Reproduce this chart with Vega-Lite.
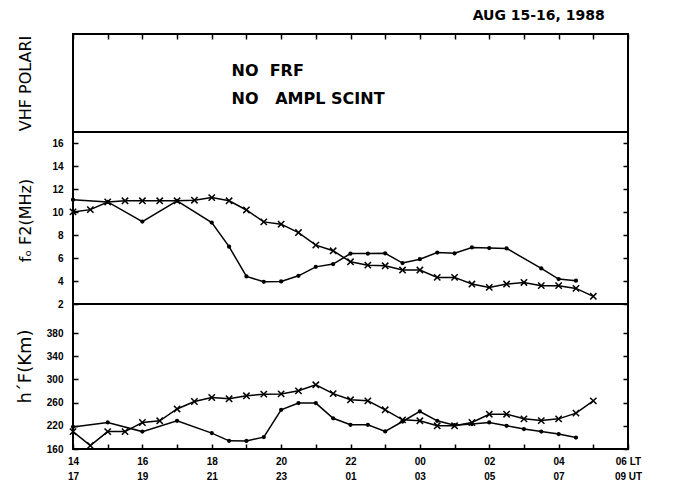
{
  "$schema": "https://vega.github.io/schema/vega-lite/v6.json",
  "padding": {"left": 14, "top": 8, "right": 0, "bottom": 0},
  "background": "white",
  "spacing": 0,
  "bounds": "flush",
  "config": {
    "view": {"stroke": "black", "strokeWidth": 2},
    "axis": {
      "labelFont": "Liberation Sans", "labelFontWeight": "bold", "labelFontSize": 10, "labelColor": "black",
      "tickColor": "black", "tickWidth": 1.5, "domain": false, "grid": false,
      "titleFont": "DejaVu Sans", "titleFontWeight": "normal", "titleFontSize": 16, "titleColor": "black"
    }
  },
  "datasets": {
    "fof2": [
      {"h": 14, "v": 10.03, "s": "x"}, {"h": 14.5, "v": 10.23, "s": "x"}, {"h": 15, "v": 10.9, "s": "x"}, {"h": 15.5, "v": 11.0, "s": "x"},
      {"h": 16, "v": 11.0, "s": "x"}, {"h": 16.5, "v": 11.0, "s": "x"}, {"h": 17, "v": 11.0, "s": "x"}, {"h": 17.5, "v": 11.05, "s": "x"},
      {"h": 18, "v": 11.28, "s": "x"}, {"h": 18.5, "v": 11.0, "s": "x"}, {"h": 19, "v": 10.2, "s": "x"}, {"h": 19.5, "v": 9.16, "s": "x"},
      {"h": 20, "v": 8.96, "s": "x"}, {"h": 20.5, "v": 8.23, "s": "x"}, {"h": 21, "v": 7.13, "s": "x"}, {"h": 21.5, "v": 6.64, "s": "x"},
      {"h": 22, "v": 5.68, "s": "x"}, {"h": 22.5, "v": 5.39, "s": "x"}, {"h": 23, "v": 5.33, "s": "x"}, {"h": 23.5, "v": 4.96, "s": "x"},
      {"h": 24, "v": 4.96, "s": "x"}, {"h": 24.5, "v": 4.32, "s": "x"}, {"h": 25, "v": 4.32, "s": "x"}, {"h": 25.5, "v": 3.74, "s": "x"},
      {"h": 26, "v": 3.45, "s": "x"}, {"h": 26.5, "v": 3.74, "s": "x"}, {"h": 27, "v": 3.88, "s": "x"}, {"h": 27.5, "v": 3.6, "s": "x"},
      {"h": 28, "v": 3.6, "s": "x"}, {"h": 28.5, "v": 3.36, "s": "x"}, {"h": 29, "v": 2.67, "s": "x"},
      {"h": 14, "v": 11.1, "s": "dot"}, {"h": 15, "v": 10.9, "s": "dot"}, {"h": 16, "v": 9.19, "s": "dot"}, {"h": 17, "v": 11.0, "s": "dot"},
      {"h": 18, "v": 9.1, "s": "dot"}, {"h": 18.5, "v": 7.0, "s": "dot"}, {"h": 19, "v": 4.4, "s": "dot"}, {"h": 19.5, "v": 3.94, "s": "dot"},
      {"h": 20, "v": 3.97, "s": "dot"}, {"h": 20.5, "v": 4.46, "s": "dot"}, {"h": 21, "v": 5.24, "s": "dot"}, {"h": 21.5, "v": 5.48, "s": "dot"},
      {"h": 22, "v": 6.4, "s": "dot"}, {"h": 22.5, "v": 6.4, "s": "dot"}, {"h": 23, "v": 6.42, "s": "dot"}, {"h": 23.5, "v": 5.57, "s": "dot"},
      {"h": 24, "v": 5.91, "s": "dot"}, {"h": 24.5, "v": 6.49, "s": "dot"}, {"h": 25, "v": 6.42, "s": "dot"}, {"h": 25.5, "v": 6.93, "s": "dot"},
      {"h": 26, "v": 6.88, "s": "dot"}, {"h": 26.5, "v": 6.85, "s": "dot"}, {"h": 27.5, "v": 5.1, "s": "dot"}, {"h": 28, "v": 4.17, "s": "dot"},
      {"h": 28.5, "v": 4.03, "s": "dot"}
    ],
    "hf": [
      {"h": 14, "v": 210, "s": "x"}, {"h": 14.5, "v": 186, "s": "x"}, {"h": 15, "v": 210, "s": "x"}, {"h": 15.5, "v": 210, "s": "x"},
      {"h": 16, "v": 225.7, "s": "x"}, {"h": 16.5, "v": 228.6, "s": "x"}, {"h": 17, "v": 249, "s": "x"}, {"h": 17.5, "v": 261.9, "s": "x"},
      {"h": 18, "v": 268.8, "s": "x"}, {"h": 18.5, "v": 266.6, "s": "x"}, {"h": 19, "v": 271.7, "s": "x"}, {"h": 19.5, "v": 274.6, "s": "x"},
      {"h": 20, "v": 275, "s": "x"}, {"h": 20.5, "v": 280.3, "s": "x"}, {"h": 21, "v": 290.7, "s": "x"}, {"h": 21.5, "v": 275.5, "s": "x"},
      {"h": 22, "v": 264.8, "s": "x"}, {"h": 22.5, "v": 263, "s": "x"}, {"h": 23, "v": 247.6, "s": "x"}, {"h": 23.5, "v": 230.3, "s": "x"},
      {"h": 24, "v": 228.6, "s": "x"}, {"h": 24.5, "v": 220, "s": "x"}, {"h": 25, "v": 220, "s": "x"}, {"h": 25.5, "v": 225.7, "s": "x"},
      {"h": 26, "v": 240, "s": "x"}, {"h": 26.5, "v": 240, "s": "x"}, {"h": 27, "v": 232, "s": "x"}, {"h": 27.5, "v": 229, "s": "x"},
      {"h": 28, "v": 232, "s": "x"}, {"h": 28.5, "v": 241.9, "s": "x"}, {"h": 29, "v": 263, "s": "x"},
      {"h": 14, "v": 218, "s": "dot"}, {"h": 15, "v": 225.7, "s": "dot"}, {"h": 16, "v": 210, "s": "dot"}, {"h": 17, "v": 228.6, "s": "dot"},
      {"h": 18, "v": 207.4, "s": "dot"}, {"h": 18.5, "v": 194.1, "s": "dot"}, {"h": 19, "v": 194, "s": "dot"}, {"h": 19.5, "v": 200.5, "s": "dot"},
      {"h": 20, "v": 247.6, "s": "dot"}, {"h": 20.5, "v": 259.1, "s": "dot"}, {"h": 21, "v": 259.1, "s": "dot"}, {"h": 21.5, "v": 233, "s": "dot"},
      {"h": 22, "v": 221.7, "s": "dot"}, {"h": 22.5, "v": 221.7, "s": "dot"}, {"h": 23, "v": 210.2, "s": "dot"}, {"h": 23.5, "v": 227.4, "s": "dot"},
      {"h": 24, "v": 244.7, "s": "dot"}, {"h": 24.5, "v": 228.6, "s": "dot"}, {"h": 25, "v": 221, "s": "dot"}, {"h": 25.5, "v": 223, "s": "dot"},
      {"h": 26, "v": 225.7, "s": "dot"}, {"h": 26.5, "v": 220, "s": "dot"}, {"h": 27, "v": 214.3, "s": "dot"}, {"h": 27.5, "v": 210, "s": "dot"},
      {"h": 28, "v": 205.7, "s": "dot"}, {"h": 28.5, "v": 199.8, "s": "dot"}
    ]
  },
  "vconcat": [
    {
      "width": 555, "height": 98,
      "title": {"text": "AUG 15-16, 1988", "anchor": "end", "fontSize": 14, "font": "DejaVu Sans", "fontWeight": "bold", "color": "black", "offset": 10, "dx": -24},
      "data": {"values": [{"h": 18.57, "y": 0.62, "t": "NO\u00a0\u00a0FRF"}, {"h": 18.57, "y": 0.34, "t": "NO\u00a0\u00a0\u00a0AMPL SCINT"}]},
      "mark": {"type": "text", "align": "left", "baseline": "middle", "font": "DejaVu Sans", "fontSize": 16, "fontWeight": "bold", "color": "black"},
      "encoding": {
        "x": {"field": "h", "type": "quantitative", "scale": {"domain": [14, 30], "nice": false, "zero": false},
              "axis": {"orient": "top", "values": [14,15,16,17,18,19,20,21,22,23,24,25,26,27,28,29,30], "labels": false, "tickSize": -5, "title": null}},
        "y": {"field": "y", "type": "quantitative", "scale": {"domain": [0, 1], "nice": false},
              "axis": {"labels": false, "ticks": false, "title": "VHF POLARI", "titleX": -48, "titleBaseline": "middle"}},
        "text": {"field": "t"}
      }
    },
    {
      "width": 555, "height": 172,
      "data": {"name": "fof2"},
      "encoding": {
        "x": {"field": "h", "type": "quantitative", "scale": {"domain": [14, 30], "nice": false, "zero": false}, "axis": null}
      },
      "layer": [
        {
          "mark": {"type": "line", "color": "black", "strokeWidth": 1.5},
          "encoding": {
            "y": {"field": "v", "type": "quantitative", "scale": {"domain": [2, 17], "nice": false, "zero": false},
                  "axis": {"values": [2,4,6,8,10,12,14,16], "tickSize": -5, "labelPadding": 15, "title": "fₒ F2(MHz)", "titleX": -48, "titleY": 88, "titleBaseline": "middle"}},
            "detail": {"field": "s"}
          }
        },
        {
          "transform": [{"filter": "datum.s == 'dot'"}],
          "mark": {"type": "point", "shape": "circle", "filled": true, "color": "black", "size": 18, "opacity": 1},
          "encoding": {
            "y": {"field": "v", "type": "quantitative", "axis": null}
          }
        },
        {
          "transform": [{"filter": "datum.s == 'x'"}],
          "mark": {"type": "point", "shape": "M-1,-1L1,1M1,-1L-1,1", "filled": false, "color": "black", "strokeWidth": 1.5, "size": 40, "opacity": 1},
          "encoding": {
            "y": {"field": "v", "type": "quantitative",
                  "axis": {"orient": "right", "values": [2,4,6,8,10,12,14,16], "labels": false, "tickSize": -5, "title": null}}
          }
        }
      ],
      "resolve": {"axis": {"y": "independent"}}
    },
    {
      "width": 555, "height": 145,
      "data": {"name": "hf"},
      "encoding": {
        "x": {"field": "h", "type": "quantitative", "scale": {"domain": [14, 30], "nice": false, "zero": false},
              "axis": {"values": [14,15,16,17,18,19,20,21,22,23,24,25,26,27,28,29,30], "tickSize": -5, "labelPadding": 12, "labelOverlap": false, "labelFlush": false, "labelLineHeight": 15, "labelBaseline": "top",
                       "labelExpr": "datum.value % 2 == 1 ? '' : (datum.value == 30 ? ['06 LT', '09 UT'] : [format(datum.value % 24, '02d'), format((datum.value + 3) % 24, '02d')])",
                       "title": null}}
      },
      "layer": [
        {
          "mark": {"type": "line", "color": "black", "strokeWidth": 1.5},
          "encoding": {
            "y": {"field": "v", "type": "quantitative", "scale": {"domain": [180, 430], "nice": false, "zero": false},
                  "axis": {"values": [180,220,260,300,340,380], "tickSize": -5, "labelPadding": 15, "labelExpr": "datum.value == 180 ? '160' : datum.label", "title": "h´F(Km)", "titleFontSize": 18, "titleX": -48, "titleY": 62, "titleAnchor": null, "titleBaseline": "middle"}},
            "detail": {"field": "s"}
          }
        },
        {
          "transform": [{"filter": "datum.s == 'dot'"}],
          "mark": {"type": "point", "shape": "circle", "filled": true, "color": "black", "size": 18, "opacity": 1},
          "encoding": {
            "y": {"field": "v", "type": "quantitative", "axis": null}
          }
        },
        {
          "transform": [{"filter": "datum.s == 'x'"}],
          "mark": {"type": "point", "shape": "M-1,-1L1,1M1,-1L-1,1", "filled": false, "color": "black", "strokeWidth": 1.5, "size": 40, "opacity": 1},
          "encoding": {
            "y": {"field": "v", "type": "quantitative",
                  "axis": {"orient": "right", "values": [180,220,260,300,340,380], "labels": false, "tickSize": -5, "title": null}}
          }
        }
      ],
      "resolve": {"axis": {"y": "independent"}}
    }
  ]
}
